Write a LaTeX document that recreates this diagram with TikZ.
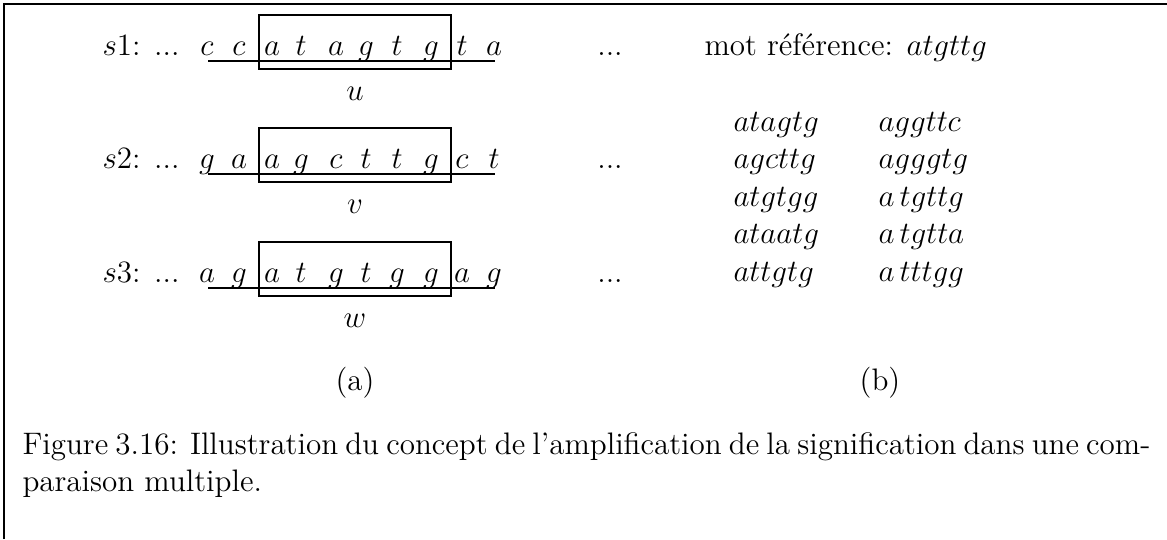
\documentclass[tikz,border=0pt]{standalone}
\begin{document}
\begin{tikzpicture}[x=0.3861pt,y=-0.3861pt,
  font=\fontsize{12pt}{14.5pt}\selectfont,
  lt/.style={anchor=base, inner sep=0pt},
  lw/.style={anchor=base west, inner sep=0pt},
  le/.style={anchor=base east, inner sep=0pt},
  thin line/.style={line width=0.4pt},
]
\useasboundingbox (0,0) rectangle (1167,539);
\draw[thin line] (4,539) -- (4,4) -- (1167,4);

% row labels
\node[le] (s1) at (180,55) {$s1$: ...};
\node[le] (s2) at (180,168) {$s2$: ...};
\node[le] (s3) at (180,282) {$s3$: ...};

% sequences
\foreach \x/\ch [count=\i] in {207/c,239/c,272/a,301/t,336/a,366/g,397/t,431/g,462/t,494/a}
  \node[lt] (ra\i) at (\x,55) {$\ch$};
\foreach \x/\ch [count=\i] in {207/g,239/a,272/a,301/g,336/c,366/t,397/t,431/g,462/c,494/t}
  \node[lt] (rb\i) at (\x,168) {$\ch$};
\foreach \x/\ch [count=\i] in {207/a,239/g,272/a,301/t,336/g,366/t,397/g,431/g,462/a,494/g}
  \node[lt] (rc\i) at (\x,282) {$\ch$};

% underlines
\coordinate (la0) at (208,61);  \coordinate (la1) at (495,61);
\coordinate (lb0) at (208,174); \coordinate (lb1) at (495,174);
\coordinate (lc0) at (208,288); \coordinate (lc1) at (495,288);
\draw[thin line] (la0) -- (la1);
\draw[thin line] (lb0) -- (lb1);
\draw[thin line] (lc0) -- (lc1);

% boxes
\draw[thin line] (259,15) rectangle (451,69);
\draw[thin line] (259,128) rectangle (451,182);
\draw[thin line] (259,242) rectangle (451,296);

\node[lt] (u) at (355,100) {$u$};
\node[lt] (v) at (355,213) {$v$};
\node[lt] (w) at (355,327) {$w$};

\node[lt] (d1) at (610,55) {...};
\node[lt] (d2) at (610,168) {...};
\node[lt] (d3) at (610,282) {...};

\node[lw] (ref) at (704,55) {mot r\'ef\'erence: $atgttg$};

\foreach \y/\wa/\wb [count=\i] in {131/atagtg/aggttc,168.5/agcttg/agggtg,206/atgtgg/a\,tgttg,243.5/ataatg/a\,tgtta,281/attgtg/a\,tttgg}{
  \node[lw] (wa\i) at (733,\y) {$\wa$};
  \node[lw] (wb\i) at (878,\y) {$\wb$};
}

\node[lt] (capa) at (355,390) {(a)};
\node[lt] (capb) at (880,390) {(b)};

\node[lw, text width=435.5pt, align=justify] (cap) at (22,454)
  {Figure 3.16: Illustration du concept de l'amplification de la signification dans une com-\linebreak paraison multiple.};
\end{tikzpicture}
\end{document}
